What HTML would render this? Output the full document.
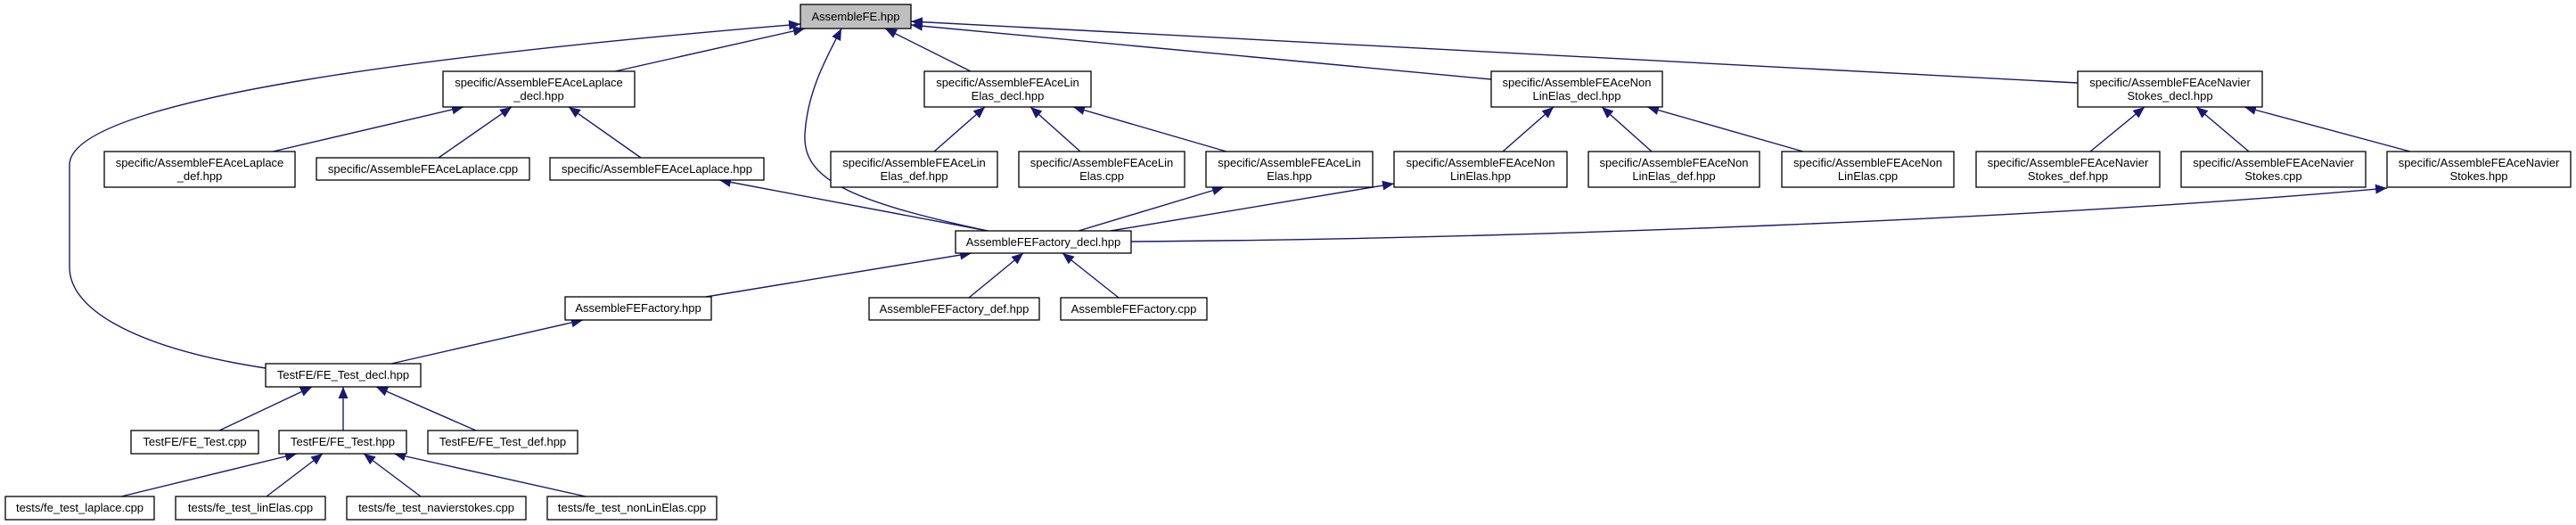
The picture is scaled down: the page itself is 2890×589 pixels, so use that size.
<!DOCTYPE html>
<html><head><meta charset="utf-8"><style>
html,body{margin:0;padding:0;background:#fff;}
svg{display:block;}
text{font-family:"Liberation Sans",Arial,sans-serif;font-size:13px;fill:#000;}
</style></head><body>
<svg width="2890" height="589" viewBox="0 0 2890 589" xmlns="http://www.w3.org/2000/svg">
<defs>
<marker id="a" markerUnits="userSpaceOnUse" markerWidth="14" markerHeight="12" refX="13" refY="5.5" orient="auto">
<path d="M0,0 L13,5.5 L0,11 z" fill="#191970"/>
</marker>
</defs>
<g fill="none" stroke="#191970" stroke-width="1.4" marker-end="url(#a)">
<path d="M298,413 C160,392 78,350 78,300 L78,185 C78,110 500,60 898,27"/>
<path d="M690,80 L903,32"/>
<path d="M1108,259 C950,225 900,200 903,150 C906,100 930,60 944,32"/>
<path d="M1089,80 L993,32"/>
<path d="M1673,89 L1022,28"/>
<path d="M2331,93 L1022,24"/>
<path d="M306,170 L520,120"/>
<path d="M492,177 L574,120"/>
<path d="M719,177 L638,120"/>
<path d="M1108,259 L807,202"/>
<path d="M1048,170 L1105,120"/>
<path d="M1212,170 L1156,120"/>
<path d="M1376,170 L1204,120"/>
<path d="M1210,259 L1373,210"/>
<path d="M1246,259 L1564,206"/>
<path d="M1686,170 L1743,120"/>
<path d="M1853,170 L1797,120"/>
<path d="M2023,170 L1848,120"/>
<path d="M2345,170 L2406,120"/>
<path d="M2523,170 L2464,120"/>
<path d="M2704,170 L2518,120"/>
<path d="M1269,271 C1700,268 2300,245 2678,211"/>
<path d="M792,333 L1090,284"/>
<path d="M1087,334 L1148,284"/>
<path d="M1255,334 L1192,284"/>
<path d="M439,408 L654,359"/>
<path d="M246,483 L350,434"/>
<path d="M385,483 L385,434"/>
<path d="M534,483 L422,434"/>
<path d="M136,557 L333,509"/>
<path d="M299,557 L362,509"/>
<path d="M472,557 L408,509"/>
<path d="M657,557 L442,509"/>
</g>
<g stroke="#000" stroke-width="1.3">
<rect x="898" y="5" width="124" height="27" fill="#bfbfbf"/>
<rect x="497" y="80" width="215" height="40" fill="#fff"/>
<rect x="1037" y="80" width="187" height="40" fill="#fff"/>
<rect x="1673" y="80" width="192" height="40" fill="#fff"/>
<rect x="2331" y="80" width="207" height="40" fill="#fff"/>
<rect x="117" y="170" width="214" height="40" fill="#fff"/>
<rect x="355" y="177" width="239" height="25" fill="#fff"/>
<rect x="617" y="177" width="240" height="25" fill="#fff"/>
<rect x="932" y="170" width="187" height="40" fill="#fff"/>
<rect x="1143" y="170" width="186" height="40" fill="#fff"/>
<rect x="1353" y="170" width="187" height="40" fill="#fff"/>
<rect x="1564" y="170" width="194" height="40" fill="#fff"/>
<rect x="1782" y="170" width="192" height="40" fill="#fff"/>
<rect x="1999" y="170" width="193" height="40" fill="#fff"/>
<rect x="2217" y="170" width="206" height="40" fill="#fff"/>
<rect x="2447" y="170" width="207" height="40" fill="#fff"/>
<rect x="2678" y="170" width="206" height="40" fill="#fff"/>
<rect x="1072" y="259" width="197" height="25" fill="#fff"/>
<rect x="634" y="333" width="164" height="26" fill="#fff"/>
<rect x="975" y="334" width="191" height="25" fill="#fff"/>
<rect x="1190" y="334" width="164" height="25" fill="#fff"/>
<rect x="298" y="408" width="174" height="26" fill="#fff"/>
<rect x="147" y="483" width="143" height="26" fill="#fff"/>
<rect x="313" y="483" width="143" height="26" fill="#fff"/>
<rect x="480" y="483" width="168" height="26" fill="#fff"/>
<rect x="6" y="557" width="167" height="26" fill="#fff"/>
<rect x="197" y="557" width="168" height="26" fill="#fff"/>
<rect x="389" y="557" width="201" height="26" fill="#fff"/>
<rect x="614" y="557" width="190" height="26" fill="#fff"/>
</g>
<g text-anchor="middle">
<text x="960" y="23">AssembleFE.hpp</text>
<text x="604.5" y="97">specific/AssembleFEAceLaplace</text><text x="604.5" y="112">_decl.hpp</text>
<text x="1130.5" y="97">specific/AssembleFEAceLin</text><text x="1130.5" y="112">Elas_decl.hpp</text>
<text x="1769" y="97">specific/AssembleFEAceNon</text><text x="1769" y="112">LinElas_decl.hpp</text>
<text x="2434.5" y="97">specific/AssembleFEAceNavier</text><text x="2434.5" y="112">Stokes_decl.hpp</text>
<text x="224" y="187">specific/AssembleFEAceLaplace</text><text x="224" y="202">_def.hpp</text>
<text x="474.5" y="194">specific/AssembleFEAceLaplace.cpp</text>
<text x="737" y="194">specific/AssembleFEAceLaplace.hpp</text>
<text x="1025.5" y="187">specific/AssembleFEAceLin</text><text x="1025.5" y="202">Elas_def.hpp</text>
<text x="1236" y="187">specific/AssembleFEAceLin</text><text x="1236" y="202">Elas.cpp</text>
<text x="1446.5" y="187">specific/AssembleFEAceLin</text><text x="1446.5" y="202">Elas.hpp</text>
<text x="1661" y="187">specific/AssembleFEAceNon</text><text x="1661" y="202">LinElas.hpp</text>
<text x="1878" y="187">specific/AssembleFEAceNon</text><text x="1878" y="202">LinElas_def.hpp</text>
<text x="2095.5" y="187">specific/AssembleFEAceNon</text><text x="2095.5" y="202">LinElas.cpp</text>
<text x="2320" y="187">specific/AssembleFEAceNavier</text><text x="2320" y="202">Stokes_def.hpp</text>
<text x="2550.5" y="187">specific/AssembleFEAceNavier</text><text x="2550.5" y="202">Stokes.cpp</text>
<text x="2781" y="187">specific/AssembleFEAceNavier</text><text x="2781" y="202">Stokes.hpp</text>
<text x="1170.5" y="276">AssembleFEFactory_decl.hpp</text>
<text x="716" y="350">AssembleFEFactory.hpp</text>
<text x="1070.5" y="351">AssembleFEFactory_def.hpp</text>
<text x="1272" y="351">AssembleFEFactory.cpp</text>
<text x="385" y="425">TestFE/FE_Test_decl.hpp</text>
<text x="218.5" y="500">TestFE/FE_Test.cpp</text>
<text x="384.5" y="500">TestFE/FE_Test.hpp</text>
<text x="564" y="500">TestFE/FE_Test_def.hpp</text>
<text x="89.5" y="574">tests/fe_test_laplace.cpp</text>
<text x="281" y="574">tests/fe_test_linElas.cpp</text>
<text x="489.5" y="574">tests/fe_test_navierstokes.cpp</text>
<text x="709" y="574">tests/fe_test_nonLinElas.cpp</text>
</g>
</svg>
</body></html>
